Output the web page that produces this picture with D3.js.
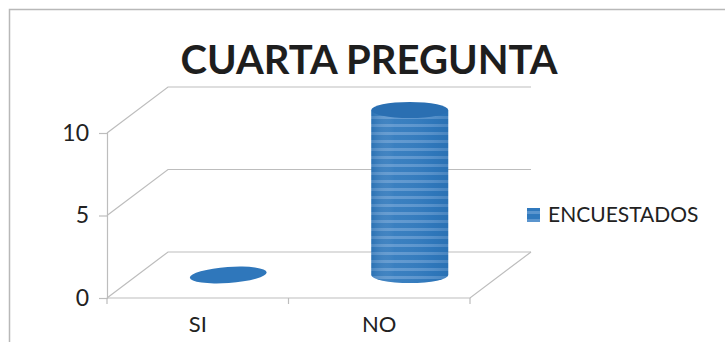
<!DOCTYPE html>
<html>
<head>
<meta charset="utf-8">
<script src="https://cdn.jsdelivr.net/npm/d3@7"></script>
<style>
  body { margin: 0; background: #fff; }
  svg { display: block; }
</style>
</head>
<body>
<svg id="chart" width="725" height="342"></svg>
<script>
const categories = ["SI", "NO"];
const encuestados = [0, 10];
const yTicks = [0, 5, 10];
const seriesName = "ENCUESTADOS";
const chartTitle = "CUARTA PREGUNTA";

const svg = d3.select("#chart");
const font = "Lato, 'Open Sans', sans-serif";

// chart frame (only top and left edges fall inside the picture)
svg.append("path")
  .attr("d", "M9.5,400 L9.5,9.5 L740,9.5")
  .attr("fill", "none")
  .attr("stroke", "#b8b8b8")
  .attr("stroke-width", 1.5);

// front plane of the 3D plot
const x = d3.scaleBand()
  .domain(categories)
  .range([107, 470])
  .paddingInner(0.576)
  .paddingOuter(0.288);

const y = d3.scaleLinear()
  .domain([0, 10])
  .range([298, 133]);

// depth offset of the back wall
const dx = 61, dy = -46;
const grid = "#bdbdbd";

const g = svg.append("g");

// floor and back wall gridlines
yTicks.forEach(v => {
  g.append("path")
    .attr("d", `M${x.range()[0]},${y(v)} L${x.range()[0] + dx},${y(v) + dy} L${x.range()[1] + dx},${y(v) + dy}`)
    .attr("fill", "none")
    .attr("stroke", grid)
    .attr("stroke-width", 1.2);
});
g.append("path")
  .attr("d", `M${x.range()[0]},${y(0)} L${x.range()[1]},${y(0)} L${x.range()[1] + dx},${y(0) + dy}`)
  .attr("fill", "none")
  .attr("stroke", grid)
  .attr("stroke-width", 1.2);

// y axis
const yAxis = g.append("g")
  .attr("transform", `translate(${x.range()[0]},0)`)
  .call(d3.axisLeft(y).tickValues(yTicks).tickSize(8).tickPadding(10));
yAxis.select(".domain").attr("stroke", grid).attr("stroke-width", 1.2);
yAxis.selectAll(".tick line").attr("stroke", grid).attr("stroke-width", 1.2);
yAxis.selectAll(".tick text")
  .attr("fill", "#222")
  .style("font-family", font)
  .style("font-size", "23px");

// x axis: labels at band centres, ticks at category boundaries
const xAxis = g.append("g")
  .attr("transform", `translate(0,${y(0)})`)
  .call(d3.axisBottom(x).tickSize(0).tickPadding(18));
xAxis.select(".domain").remove();
xAxis.selectAll(".tick text")
  .attr("fill", "#222")
  .style("font-family", font)
  .style("font-size", "22px");
const bounds = [x.range()[0], x.range()[0] + x.step() * (0.288 + 1 - 0.576 / 2), x.range()[1]];
g.selectAll(".xtick").data(bounds).join("line")
  .attr("x1", d => d).attr("x2", d => d)
  .attr("y1", y(0)).attr("y2", y(0) + 6)
  .attr("stroke", grid)
  .attr("stroke-width", 1.2);

// stripe pattern like the scanned cylinder
const defs = svg.append("defs");
const pat = defs.append("pattern")
  .attr("id", "stripes")
  .attr("patternUnits", "userSpaceOnUse")
  .attr("width", 10).attr("height", 8);
pat.append("rect").attr("width", 10).attr("height", 8).attr("fill", "#3079bd");
pat.append("rect").attr("y", 3).attr("width", 10).attr("height", 3).attr("fill", "#6ea2d6").attr("opacity", 0.7);

const shade = defs.append("linearGradient").attr("id", "shade");
shade.append("stop").attr("offset", "0%").attr("stop-color", "#1d5f9e").attr("stop-opacity", 0.3);
shade.append("stop").attr("offset", "30%").attr("stop-color", "#ffffff").attr("stop-opacity", 0.05);
shade.append("stop").attr("offset", "80%").attr("stop-color", "#1d5f9e").attr("stop-opacity", 0.1);
shade.append("stop").attr("offset", "100%").attr("stop-color", "#1d5f9e").attr("stop-opacity", 0.3);

// cylinders at mid depth
const rx = x.bandwidth() / 2;
const ry = 8;
const bars = g.selectAll(".bar")
  .data(categories.map((c, i) => ({ cat: c, val: encuestados[i] })))
  .join("g")
  .attr("class", "bar")
  .attr("transform", d => `translate(${x(d.cat) + rx + dx / 2},${dy / 2})`);

bars.each(function (d) {
  const b = d3.select(this);
  const top = y(d.val), base = y(0);
  if (d.val > 0) {
    const body = `M${-rx},${top} L${-rx},${base} A${rx},${ry} 0 0 0 ${rx},${base} L${rx},${top} Z`;
    b.append("path").attr("d", body).attr("fill", "url(#stripes)");
    b.append("path").attr("d", body).attr("fill", "url(#shade)");
  }
  b.append("ellipse")
    .attr("cx", 0).attr("cy", top)
    .attr("rx", rx).attr("ry", ry)
    .attr("transform", d.val > 0 ? null : `rotate(-4,0,${top})`)
    .attr("fill", d.val > 0 ? "#2a6fb2" : "#2f77bb");
});

// legend
const leg = svg.append("g").attr("transform", "translate(527,208)");
leg.append("rect").attr("width", 13).attr("height", 14).attr("fill", "url(#stripes)");
leg.append("text")
  .attr("x", 21).attr("y", 7)
  .attr("dy", "0.35em")
  .attr("fill", "#222")
  .style("font-family", font)
  .style("font-size", "21px")
  .text(seriesName);

// title
svg.append("text")
  .attr("x", 369).attr("y", 74)
  .attr("text-anchor", "middle")
  .attr("fill", "#1e1e1e")
  .style("font-family", font)
  .style("font-weight", "bold")
  .style("font-size", "40px")
  .text(chartTitle);
</script>
</body>
</html>
